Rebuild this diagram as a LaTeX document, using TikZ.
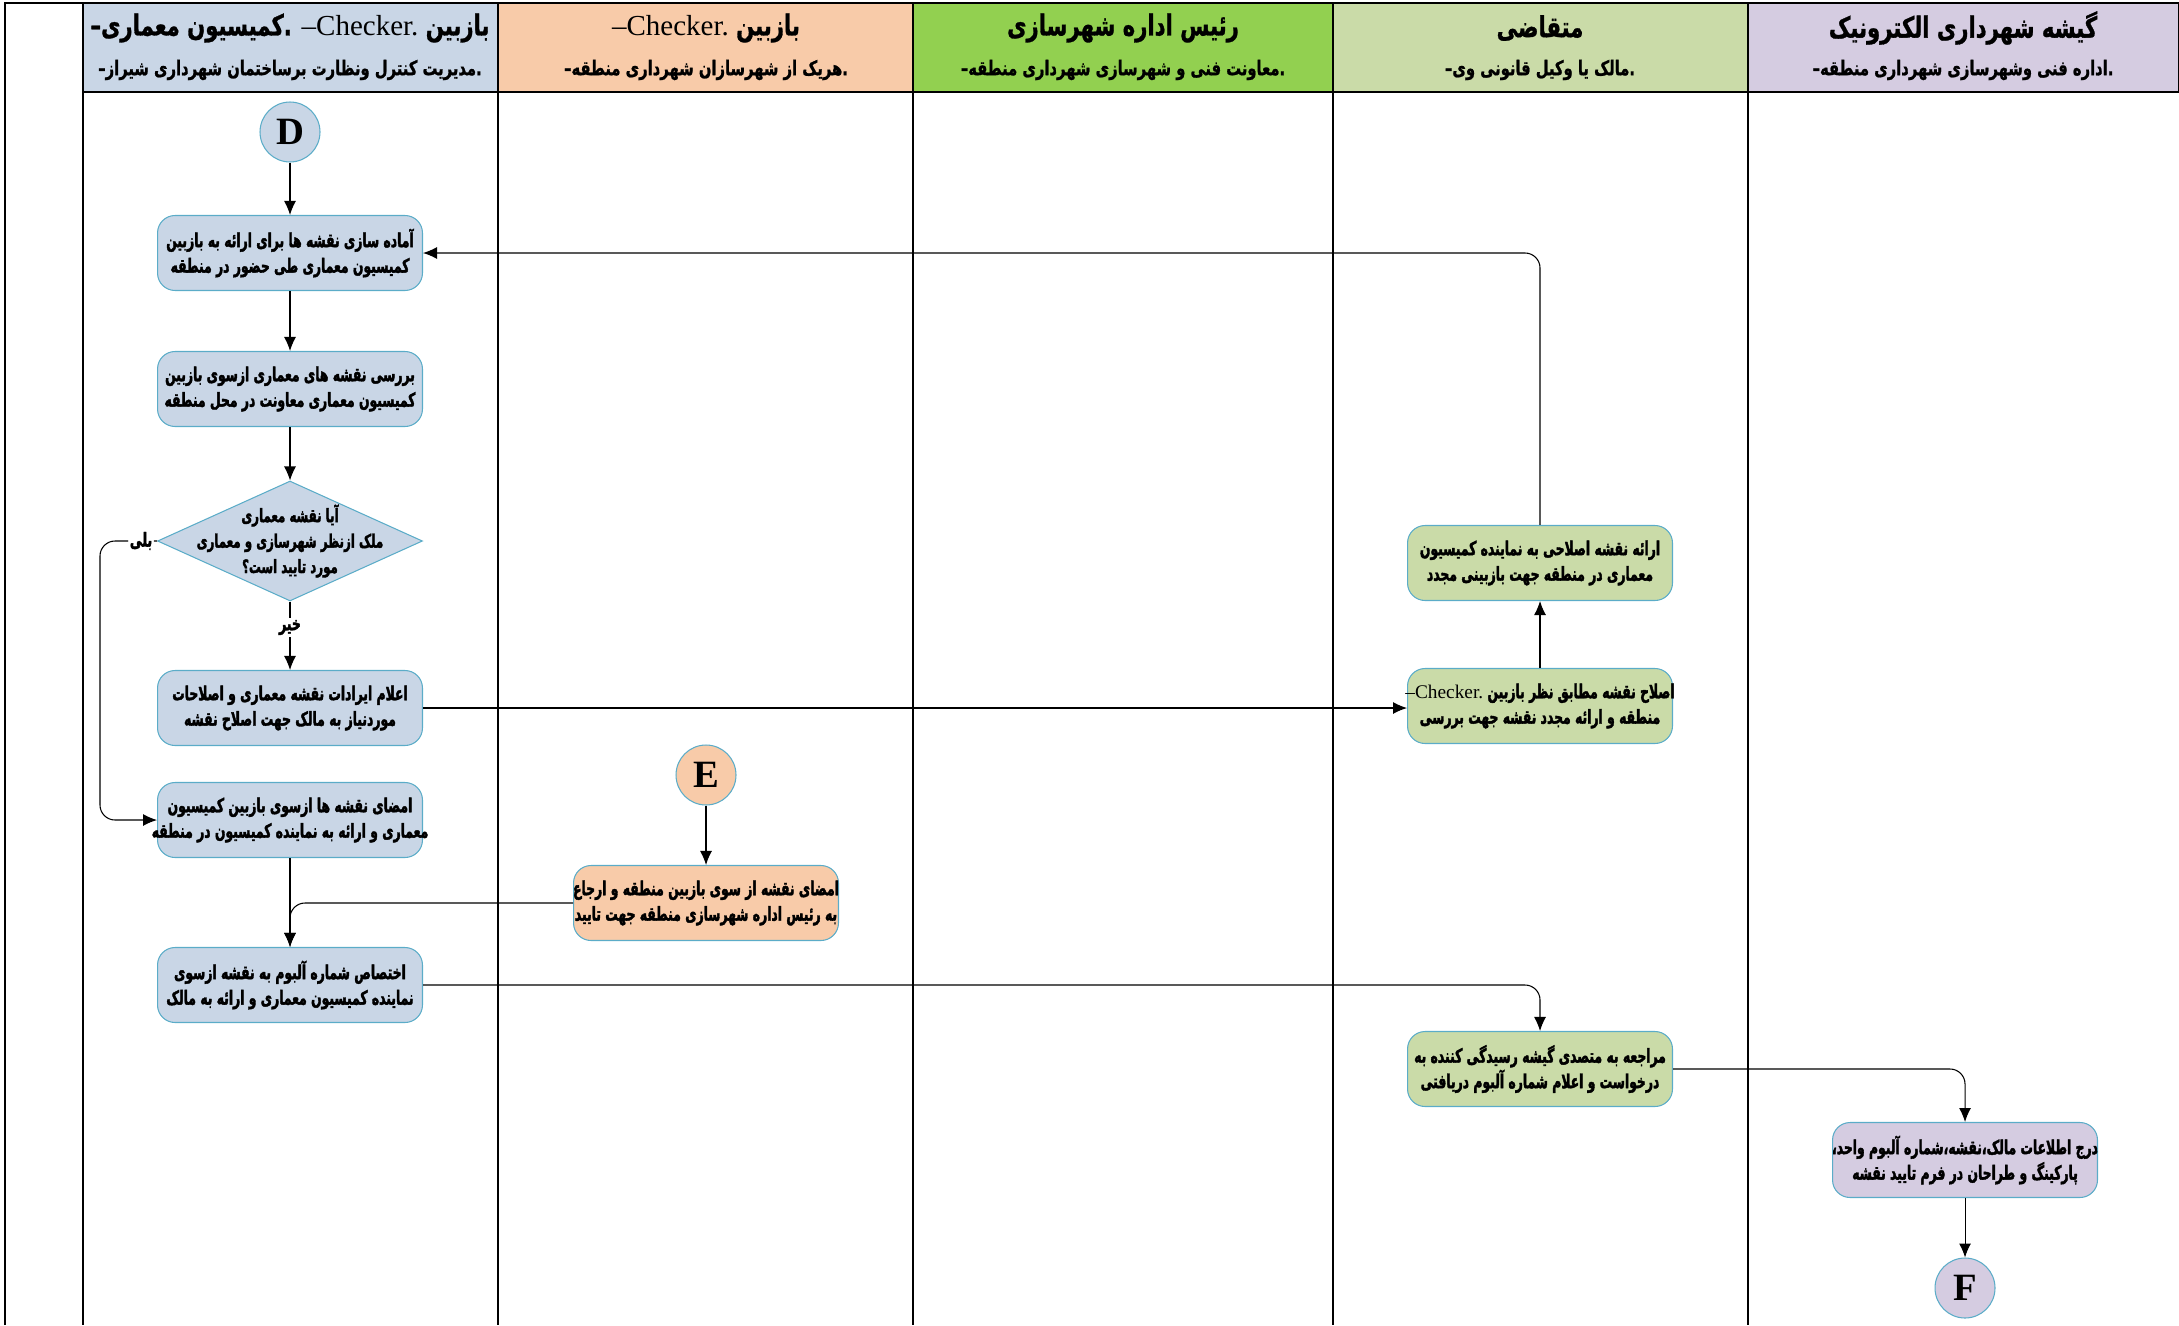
\documentclass[tikz,border=0pt]{standalone}
\usepackage{fontspec}
\setmainfont{Liberation Serif}
\newfontfamily\farsi[Script=Arabic,FakeStretch=0.64,BoldFeatures={FakeBold=2}]{DejaVu Sans}
\newfontfamily\farsihd[Script=Arabic,FakeStretch=0.73,BoldFeatures={FakeBold=1}]{DejaVu Sans}
\TeXXeTstate=1
\usepackage{tikz}
\usetikzlibrary{shapes.geometric,arrows.meta,positioning,calc}
\usepackage{xcolor}
\definecolor{laneblue}{HTML}{C9D6E6}
\definecolor{lanepeach}{HTML}{F8CBA9}
\definecolor{lanegreen}{HTML}{92D050}
\definecolor{laneolive}{HTML}{CADBA8}
\definecolor{lanelilac}{HTML}{D5CCE1}
\definecolor{edgeblue}{HTML}{5BACC8}
\newcommand{\rl}[1]{\beginR #1\endR}
\newcommand{\row}[1]{\makebox[5.1cm]{\beginR #1\endR}}
\newcommand{\chk}{\beginL{\mdseries\rmfamily –Checker.}\endL}

\begin{document}
\begin{tikzpicture} [
    x = 0.02cm, y = -0.02cm,
    lane/.style = { line width = 1.6pt },
    hdr/.style = { draw, line width = 1.6pt },
    hdtitle/.style = { inner sep = 0, font = \farsihd\bfseries\fontsize{16.5}{18}\selectfont },
    hdsub/.style = { inner sep = 0, font = \farsihd\bfseries\fontsize{11.5}{13}\selectfont },
    box/.style = { draw = edgeblue, line width = 0.6pt, rounded corners = 0.35cm, minimum width = 5.3cm, minimum height = 1.5cm, align = center, inner sep = 0, font = \farsi\bfseries\fontsize{11}{14.5}\selectfont },
    decision/.style = { diamond, draw = edgeblue, line width = 0.6pt, fill = laneblue, minimum width = 5.3cm, minimum height = 2.4cm, inner sep = 0 },
    term/.style = { circle, draw = edgeblue, line width = 0.6pt, minimum size = 1.2cm, inner sep = 0, font = \bfseries\fontsize{22}{24}\selectfont },
    lbl/.style = { fill = white, inner sep = 1pt, font = \farsi\bfseries\fontsize{11}{12}\selectfont },
    flow/.style = { line width = 0.6pt, -{Latex[length = 2.8mm, width = 2.4mm]} }
    ]

    \useasboundingbox (0,0) rectangle (2179,1325);

    \filldraw[hdr, fill = laneblue] (83,3) rectangle (498,92);
    \filldraw[hdr, fill = lanepeach] (498,3) rectangle (913,92);
    \filldraw[hdr, fill = lanegreen] (913,3) rectangle (1333,92);
    \filldraw[hdr, fill = laneolive] (1333,3) rectangle (1748,92);
    \filldraw[hdr, fill = lanelilac] (1748,3) rectangle (2179,92);
    \draw[lane] (5,1325) -- (5,3) -- (83,3);
    \draw[lane] (83,92) -- (83,1325) (498,92) -- (498,1325) (913,92) -- (913,1325) (1333,92) -- (1333,1325) (1748,92) -- (1748,1325);

    \node[hdtitle] (t1) at (290,28) {\rl{بازبین \chk{} .کمیسیون معماری–}};
    \node[hdsub] (s1) at (290,70) {\rl{.مدیریت کنترل ونظارت برساختمان شهرداری شیراز–}};
    \node[hdtitle] (t2) at (706,28) {\rl{بازبین \chk}};
    \node[hdsub] (s2) at (706,70) {\rl{.هریک از شهرسازان شهرداری منطقه–}};
    \node[hdtitle] (t3) at (1123,28) {\rl{رئیس اداره شهرسازی}};
    \node[hdsub] (s3) at (1123,70) {\rl{.معاونت فنی و شهرسازی شهرداری منطقه–}};
    \node[hdtitle] (t4) at (1540,28) {\rl{متقاضی}};
    \node[hdsub] (s4) at (1540,70) {\rl{.مالک یا وکیل قانونی وی–}};
    \node[hdtitle] (t5) at (1963,28) {\rl{گیشه شهرداری الکترونیک}};
    \node[hdsub] (s5) at (1963,70) {\rl{.اداره فنی وشهرسازی شهرداری منطقه–}};

    \node[term, fill = laneblue] (D) at (290,132) {D};
    \node[box, fill = laneblue] (prep) at (290,253) {\row{آماده سازی نقشه ها برای ارائه به بازبین}\\\row{کمیسیون معماری طی حضور در منطقه}};
    \node[box, fill = laneblue] (review) at (290,389) {\row{بررسی نقشه های معماری ازسوی بازبین}\\\row{کمیسیون معماری معاونت در محل منطقه}};
    \node[decision] (ask) at (290,541) {};
    \node[align = center, inner sep = 0, font = \farsi\bfseries\fontsize{10.5}{14.5}\selectfont] (asktext) at (ask) {\rl{آیا نقشه معماری}\\\rl{ملک ازنظر شهرسازی و معماری}\\\rl{مورد تایید است؟}};
    \node[box, fill = laneblue] (notify) at (290,708) {\row{اعلام ایرادات نقشه معماری و اصلاحات}\\\row{موردنیاز به مالک جهت اصلاح نقشه}};
    \node[box, fill = laneblue] (sign) at (290,820) {\row{امضای نقشه ها ازسوی بازبین کمیسیون}\\\row{معماری و ارائه به نماینده کمیسیون در منطقه}};
    \node[box, fill = laneblue] (album) at (290,985) {\row{اختصاص شماره آلبوم به نقشه ازسوی}\\\row{نماینده کمیسیون معماری و ارائه به مالک}};

    \node[term, fill = lanepeach] (E) at (706,775) {E};
    \node[box, fill = lanepeach] (signE) at (706,903) {\row{امضای نقشه از سوی بازبین منطقه و ارجاع}\\\row{به رئیس اداره شهرسازی منطقه جهت تایید}};

    \node[box, fill = laneolive] (resend) at (1540,563) {\row{ارائه نقشه اصلاحی به نماینده کمیسیون}\\\row{معماری در منطقه جهت بازبینی مجدد}};
    \node[box, fill = laneolive] (fix) at (1540,706) {\row{اصلاح نقشه مطابق نظر بازبین \chk}\\\row{منطقه و ارائه مجدد نقشه جهت بررسی}};
    \node[box, fill = laneolive] (visit) at (1540,1069) {\row{مراجعه به متصدی گیشه رسیدگی کننده به}\\\row{درخواست و اعلام شماره آلبوم دریافتی}};

    \node[box, fill = lanelilac] (record) at (1965,1160) {\row{درج اطلاعات مالک،نقشه،شماره آلبوم واحد،}\\\row{پارکینگ و طراحان در فرم تایید نقشه}};
    \node[term, fill = lanelilac] (F) at (1965,1288) {F};

    \coordinate (yesbend) at (100,541);

    \draw[flow] (D) -- (prep);
    \draw[flow] (prep) -- (review);
    \draw[flow] (review) -- (ask);
    \draw[flow] (ask) -- node[lbl, pos = 0.38] (no) {\rl{خیر}} (notify);
    \draw[flow, rounded corners = 0.3cm] (ask.west) -- node[lbl, pos = 0.28] (yes) {\rl{بلی}} (yesbend) |- (sign.west);
    \draw[flow] (notify.east) -- (notify.east -| fix.west);
    \draw[flow] (fix) -- (resend);
    \draw[flow, rounded corners = 0.3cm] (resend.north) |- (prep.east);
    \draw[flow] (sign) -- (album);
    \draw[flow, rounded corners = 0.3cm] (E) -- (signE);
    \draw[flow, rounded corners = 0.3cm] (signE.west) -| (album.north);
    \draw[flow, rounded corners = 0.3cm] (album.east) -| (visit.north);
    \draw[flow, rounded corners = 0.3cm] (visit.east) -| (record.north);
    \draw[flow] (record) -- (F);
\end{tikzpicture}
\end{document}
